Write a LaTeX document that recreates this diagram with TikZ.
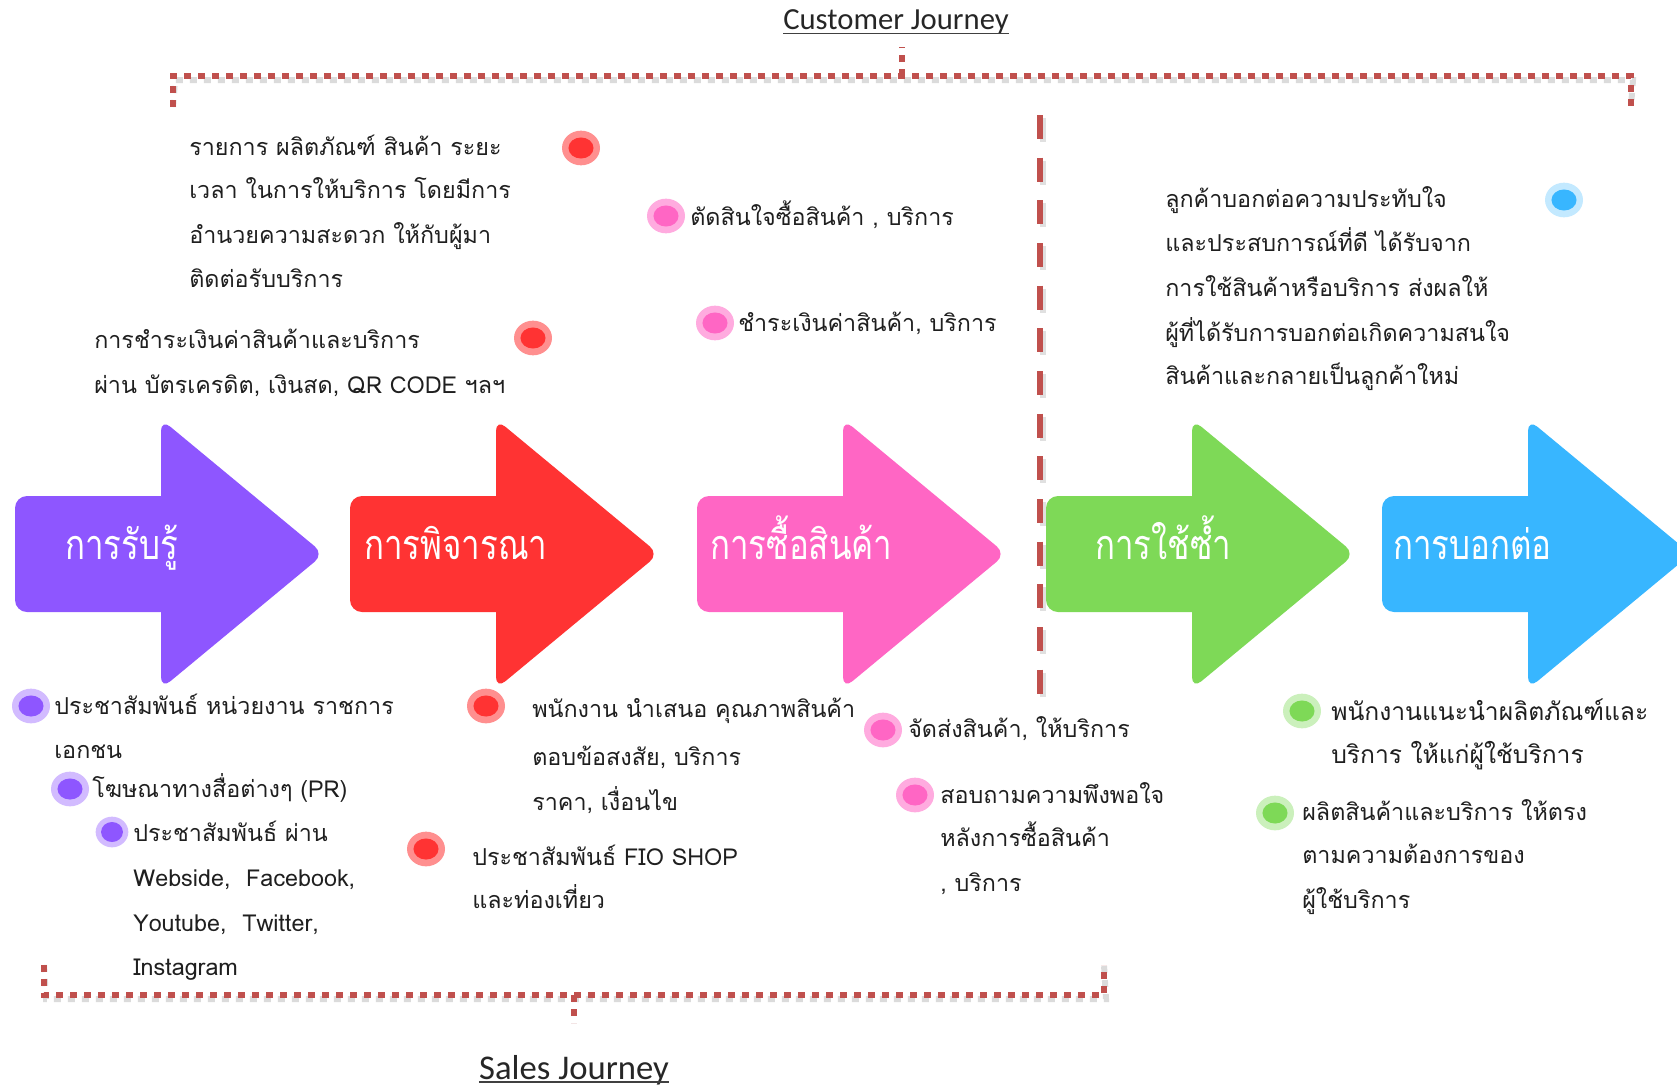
\documentclass[tikz,border=0pt]{standalone}
\usepackage{fontspec}
\usetikzlibrary{shapes.geometric}
\newfontfamily\thai[Script=Thai]{Loma}
\newfontfamily\thaicond[Script=Thai,FakeStretch=0.8]{Loma}
\newfontfamily\titlefont{Carlito}
\definecolor{cPurple}{HTML}{8E56FF}
\definecolor{cRed}{HTML}{FF3333}
\definecolor{cPink}{HTML}{FF66C4}
\definecolor{cGreen}{HTML}{7ED957}
\definecolor{cBlue}{HTML}{38B6FF}
\definecolor{braceRed}{HTML}{C0504D}
\newcommand\jdot[5]{% name, color, tint, x, y
  \node[ellipse, fill=#2!#3!white, minimum width=28.5pt, minimum height=26pt, inner sep=0pt] (#1) at (#4,#5) {};
  \fill[#2] (#1.center) ellipse [x radius=9.4pt, y radius=7.9pt];
}
\newcommand\jarrow[3]{% name, color, left x
  \fill[#2, rounded corners=9pt] (#3,496) rectangle ++(200,116);
  \fill[#2, rounded corners=9pt] (#3+146,419) -- (#3+309,554) -- (#3+146,689) -- cycle;
  \coordinate (#1) at (#3,554);
}
\begin{document}
\begin{tikzpicture}[x=0.75pt,y=-0.75pt,
  body/.style={anchor=base west, inner sep=0pt, text=black!88,
    font=\thai\fontsize{17.5}{20}\selectfont},
  lbl/.style={anchor=base west, inner sep=0pt, text=white,
    font=\thaicond\fontsize{31}{34}\selectfont},
  title/.style={anchor=base, inner sep=0pt, text=black!85,
    font=\titlefont\fontsize{23}{26}\selectfont},
  uline/.style={draw=black!75, line width=1.1pt},
  brace/.style={line width=4.5pt, draw=braceRed, dash pattern=on 5.25pt off 5.25pt},
  braceshadow/.style={line width=4.5pt, draw=black!14, dash pattern=on 5.25pt off 5.25pt},
  divider/.style={line width=4.5pt, draw=braceRed, dash pattern=on 18pt off 14pt},
  dividershadow/.style={line width=4.5pt, draw=black!12, dash pattern=on 18pt off 14pt},
]
\useasboundingbox (0,0) rectangle (1677,1085);
\clip (0,0) rectangle (1677,1085);

% titles
\node[title] (cj) at (896,29) {Customer Journey};
\draw[uline] ([yshift=-3.5pt]cj.base west) -- ([yshift=-3.5pt]cj.base east);
\node[title, font=\titlefont\fontsize{26}{28}\selectfont] (sj) at (574,1079) {Sales Journey};
\draw[uline] ([yshift=-2.2pt]sj.base west) -- ([yshift=-2.2pt]sj.base east);

% top brace
\coordinate (tbL) at (173,107);
\coordinate (tbR) at (1631,106);
\coordinate (tbM) at (902,76);
\coordinate (tbT) at (902,47);
\begin{scope}[shift={(2,4)}]
  \draw[braceshadow] (tbL) -- (173,76) -- (1631,76) -- (tbR);
  \draw[braceshadow] (tbM) -- (tbT);
\end{scope}
\draw[brace] (tbL) -- (173,76) -- (1631,76) -- (tbR);
\draw[brace] (tbM) -- (tbT);

% bottom brace
\coordinate (bbL) at (44,965);
\coordinate (bbR) at (1104,965);
\coordinate (bbM) at (574,995);
\coordinate (bbB) at (574,1023);
\begin{scope}[shift={(2,4)}]
  \draw[braceshadow] (bbL) -- (44,995) -- (1104,995) -- (bbR);
  \draw[braceshadow] (bbM) -- (bbB);
\end{scope}
\draw[brace] (bbL) -- (44,995) -- (1104,995) -- (bbR);
\draw[brace] (bbM) -- (bbB);

% divider
\coordinate (dvT) at (1040,115);
\coordinate (dvB) at (1040,695);
\draw[dividershadow] ([shift={(3,3)}]dvT) -- ([shift={(3,3)}]dvB);
\draw[divider] (dvT) -- (dvB);

% arrows
\jarrow{a1}{cPurple}{15}
\jarrow{a2}{cRed}{350}
\jarrow{a3}{cPink}{697}
\jarrow{a4}{cGreen}{1046}
\jarrow{a5}{cBlue}{1382}
\node[lbl] (l1) at (65,559) {การรับรู้};
\node[lbl] (l2) at (364,559) {การพิจารณา};
\node[lbl] (l3) at (710,559) {การซื้อสินค้า};
\node[lbl] (l4) at (1095,559) {การใช้ซ้ำ};
\node[lbl] (l5) at (1393,559) {การบอกต่อ};

% dots
\jdot{r1}{cRed}{55}{581}{148}
\jdot{r2}{cRed}{55}{533}{338}
\jdot{r3}{cRed}{55}{486}{706}
\jdot{r4}{cRed}{55}{426}{849}
\jdot{p1}{cPink}{55}{666}{216}
\jdot{p2}{cPink}{55}{715}{323}
\jdot{p3}{cPink}{55}{883}{730}
\jdot{p4}{cPink}{55}{915}{795}
\jdot{b1}{cBlue}{30}{1564}{200}
\jdot{u1}{cPurple}{40}{31}{706}
\jdot{u2}{cPurple}{40}{70}{789}
\node[ellipse, fill=cPurple!40!white, minimum width=24.5pt, minimum height=23pt, inner sep=0pt] (u3) at (112,832) {};
\fill[cPurple] (u3.center) ellipse [x radius=8.2pt, y radius=7.5pt];
\jdot{g1}{cGreen}{40}{1302}{711}
\jdot{g2}{cGreen}{40}{1275}{813}

% text blocks (baseline = line centre + 8)
\node[body] (tA1) at (189,155) {รายการ ผลิตภัณฑ์ สินค้า ระยะ};
\node[body] (tA2) at (189,198) {เวลา ในการให้บริการ โดยมีการ};
\node[body] (tA3) at (189,243) {อำนวยความสะดวก ให้กับผู้มา};
\node[body] (tA4) at (189,287) {ติดต่อรับบริการ};

\node[body] (tB1) at (94,348) {การชำระเงินค่าสินค้าและบริการ};
\node[body] (tB2) at (94,393) {ผ่าน บัตรเครดิต, เงินสด, QR CODE ฯลฯ};

\node[body] (tC1) at (690,225) {ตัดสินใจซื้อสินค้า , บริการ};
\node[body] (tD1) at (738,331) {ชำระเงินค่าสินค้า, บริการ};

\node[body] (tE1) at (1165,207) {ลูกค้าบอกต่อความประทับใจ};
\node[body] (tE2) at (1165,251) {และประสบการณ์ที่ดี ได้รับจาก};
\node[body] (tE3) at (1165,296) {การใช้สินค้าหรือบริการ ส่งผลให้};
\node[body] (tE4) at (1165,341) {ผู้ที่ได้รับการบอกต่อเกิดความสนใจ};
\node[body] (tE5) at (1165,384) {สินค้าและกลายเป็นลูกค้าใหม่};

\node[body] (tF1) at (54,714) {ประชาสัมพันธ์ หน่วยงาน ราชการ};
\node[body] (tF2) at (54,758) {เอกชน};
\node[body] (tG1) at (92,797) {โฆษณาทางสื่อต่างๆ (PR)};
\node[body] (tH1) at (133,841) {ประชาสัมพันธ์ ผ่าน};
\node[body] (tH2) at (133,886) {Webside,\ \ Facebook,};
\node[body] (tH3) at (133,931) {Youtube,\ \ Twitter,};
\node[body] (tH4) at (133,975) {Instagram};

\node[body] (tI1) at (532,717) {พนักงาน นำเสนอ คุณภาพสินค้า};
\node[body] (tI2) at (532,765) {ตอบข้อสงสัย, บริการ};
\node[body] (tI3) at (532,810) {ราคา, เงื่อนไข};
\node[body] (tJ1) at (472,865) {ประชาสัมพันธ์ FIO SHOP};
\node[body] (tJ2) at (472,908) {และท่องเที่ยว};

\node[body] (tK1) at (908,737) {จัดส่งสินค้า, ให้บริการ};
\node[body] (tL1) at (940,803) {สอบถามความพึงพอใจ};
\node[body] (tL2) at (940,846) {หลังการซื้อสินค้า};
\node[body] (tL3) at (940,891) {, บริการ};

\node[body, font=\thai\fontsize{18.5}{20}\selectfont] (tM1) at (1331,720) {พนักงานแนะนำผลิตภัณฑ์และ};
\node[body, font=\thai\fontsize{18.5}{20}\selectfont] (tM2) at (1331,763) {บริการ ให้แก่ผู้ใช้บริการ};
\node[body] (tN1) at (1302,820) {ผลิตสินค้าและบริการ ให้ตรง};
\node[body] (tN2) at (1302,863) {ตามความต้องการของ};
\node[body] (tN3) at (1302,908) {ผู้ใช้บริการ};
\end{tikzpicture}
\end{document}
